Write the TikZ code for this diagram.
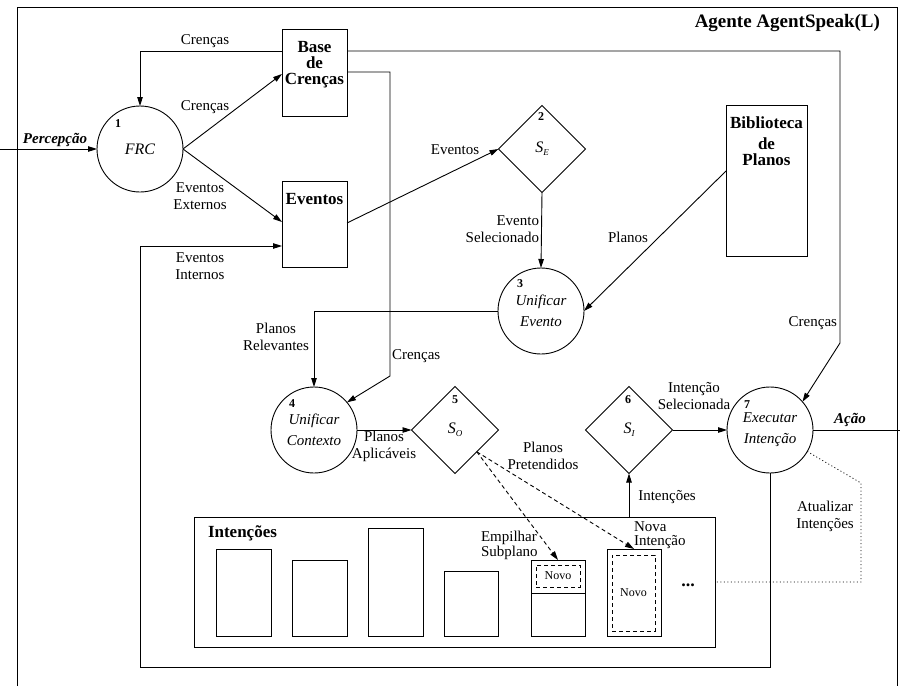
\documentclass[tikz,border=0pt]{standalone}
\usepackage{fontspec}
\setmainfont{Liberation Serif}
\usetikzlibrary{arrows.meta,shapes.geometric,calc}

\begin{document}
\begin{tikzpicture}[x=1pt,y=-1pt,line width=0.9pt,
  every node/.style={inner sep=0pt,outer sep=0pt},
  lbl/.style={font=\fontsize{15}{17}\selectfont,align=center},
  bilbl/.style={font=\bfseries\itshape\fontsize{15}{17}\selectfont},
  boxtitle/.style={font=\bfseries\fontsize{17}{16}\selectfont,align=center,anchor=north},
  store/.style={draw,anchor=north west},
  proc/.style={draw,circle,minimum size=86pt,align=center,
    font=\itshape\fontsize{15}{21}\selectfont},
  choice/.style={draw,diamond,minimum width=87pt,minimum height=87pt,
    font=\itshape\fontsize{16}{17}\selectfont},
  num/.style={font=\bfseries\fontsize{12}{12}\selectfont},
  arr/.style={-{Triangle[length=9pt,width=5.5pt]}},
  newbox/.style={draw,dashed,dash pattern=on 4pt off 3pt,anchor=north west,
    font=\fontsize{12}{12}\selectfont},
]
\useasboundingbox (0,0) rectangle (900,686);

% agent frame and its title
\draw (17,686) -- (17,7) -- (897,7) -- (897,686);
\node[font=\bfseries\fontsize{19}{19}\selectfont,anchor=east] (title) at (880,23) {Agente AgentSpeak(L)};

% processes
\node[proc,font=\itshape\fontsize{16}{21}\selectfont] (frc) at (140,149) {FRC};
\node[proc] (ue) at (541,311) {Unificar\\Evento};
\node[proc] (uc) at (314,430) {Unificar\\Contexto};
\node[proc] (ex) at (770,430) {Executar\\Intenção};

% selection functions
\node[choice] (se) at (542,149) {S\raisebox{-3pt}{\fontsize{9}{9}\selectfont E}};
\node[choice] (so) at (455,430) {S\raisebox{-3pt}{\fontsize{9}{9}\selectfont O}};
\node[choice] (si) at (629,430) {S\raisebox{-3pt}{\fontsize{9}{9}\selectfont I}};

% step numbers
\node[num] (n1) at (118,124) {1};
\node[num] (n2) at (541,117) {2};
\node[num] (n3) at (520,284) {3};
\node[num] (n4) at (292,404) {4};
\node[num] (n5) at (455,400) {5};
\node[num] (n6) at (628,400) {6};
\node[num] (n7) at (747,405) {7};

% data stores
\node[store,minimum width=65pt,minimum height=87pt] (base) at (282,29) {};
\node[boxtitle] (baset) at ([yshift=-12pt]base.north) {Base\\de\\Crenças};
\node[store,minimum width=65pt,minimum height=86pt] (evt) at (282,181) {};
\node[boxtitle] (evtt) at ([yshift=-12pt]evt.north) {Eventos};
\node[store,minimum width=81pt,minimum height=151pt] (bib) at (726,105) {};
\node[boxtitle] (bibt) at ([yshift=-12pt]bib.north) {Biblioteca\\[5pt]de\\Planos};

% intentions
\node[store,minimum width=521pt,minimum height=130pt] (intbox) at (194,517) {};
\node[font=\bfseries\fontsize{17}{17}\selectfont,anchor=west] (intt) at (208,533) {Intenções};
\node[store,minimum width=55pt,minimum height=87pt] (st1) at (216,549) {};
\node[store,minimum width=55pt,minimum height=76pt] (st2) at (292,560) {};
\node[store,minimum width=55pt,minimum height=108pt] (st3) at (368,528) {};
\node[store,minimum width=54pt,minimum height=65pt] (st4) at (444,571) {};
\node[store,minimum width=54pt,minimum height=76pt] (st5) at (531,560) {};
\draw (st5.west |- 0,593) -- (st5.east |- 0,593);
\node[newbox,minimum width=44pt,minimum height=22pt] (nv5) at (536,565) {Novo};
\node[store,minimum width=54pt,minimum height=87pt] (st6) at (607,549) {};
\node[newbox,minimum width=43pt,minimum height=76pt] (nv6) at (612,555) {Novo};
\node[font=\bfseries\fontsize{18}{18}\selectfont] (dots) at (688,585) {...};

% perception
\coordinate (pin) at (0,149);
\draw[arr] (pin) -- (frc.west);
\node[bilbl] (lperc) at (55,140) {Percepção};

% beliefs
\draw[arr] ([yshift=-22pt]base.north west) -| (frc.north);
\node[lbl] (lc1) at (205,41) {Crenças};
\draw[arr] (frc.east) -- ([yshift=-45pt]base.north west);
\node[lbl] (lc2) at (205,107) {Crenças};
\coordinate (brk1) at (840,343);
\draw[arr] ([yshift=-22pt]base.north east) -| (brk1) -- (ex.41);
\node[lbl,anchor=east] (lc3) at (837,323) {Crenças};
\coordinate (brk2) at (390,376);
\draw[arr] ([yshift=-43pt]base.north east) -| (brk2) -- (uc.40);
\node[lbl,anchor=west] (lc4) at (392,356) {Crenças};

% events
\draw[arr] (frc.east) -- ([yshift=-41pt]evt.north west);
\node[lbl] (lext) at (200,196) {Eventos\\Externos};
\coordinate (loopbl) at (140,667);
\draw[arr] (ex.south) |- (loopbl) |- ([yshift=-65pt]evt.north west);
\node[lbl] (lint) at (200,266) {Eventos\\Internos};
\draw[arr] ([yshift=-42pt]evt.north east) -- (se.west);
\node[lbl] (lev) at (455,150) {Eventos};
\draw[arr] (se.south) -- (ue.north);
\node[lbl,anchor=east,align=right] (lsel) at (539,229) {Evento\\Selecionado};

% plans
\draw[arr] ([yshift=-66pt]bib.north west) -- (ue.east);
\node[lbl] (lpl) at (628,237) {Planos};
\draw[arr] (ue.west) -| (uc.north);
\node[lbl] (lrel) at (276,337) {Planos\\Relevantes};
\draw[arr] (uc.east) -- (so.west);
\node[lbl] (lapl) at (384,446) {Planos\\Aplicáveis};
\draw[arr,dashed,dash pattern=on 4pt off 3pt] (so.south east) -- (st5.north);
\draw[arr,dashed,dash pattern=on 4pt off 3pt] (so.south east) -- (st6.north);
\node[lbl] (lpre) at (543,456) {Planos\\Pretendidos};
\node[lbl,anchor=west,align=left,font=\fontsize{15}{15}\selectfont] (lemp) at (481,545) {Empilhar\\Subplano};
\node[lbl,anchor=west,align=left,font=\fontsize{15}{13.5}\selectfont] (lnova) at (634,535) {Nova\\Intenção};

% intention selection and execution
\draw[arr] (intbox.north -| si.south) -- (si.south);
\node[lbl] (lints) at (667,497) {Intenções};
\draw[arr] (si.east) -- (ex.west);
\node[lbl] (lisel) at (694,396) {Intenção\\Selecionada};
\coordinate (aout) at (900,430);
\draw (ex.east) -- (aout);
\node[bilbl] (lacao) at (850,420) {Ação};

% intention update
\coordinate (d1) at (861,483);
\coordinate (d2) at (861,582);
\draw[line width=0.8pt,dash pattern=on 1pt off 2.5pt] (ex.-30) -- (d1) -- (d2) -- (d2 -| intbox.east);
\node[lbl] (latu) at (825,516) {Atualizar\\Intenções};
\end{tikzpicture}
\end{document}
